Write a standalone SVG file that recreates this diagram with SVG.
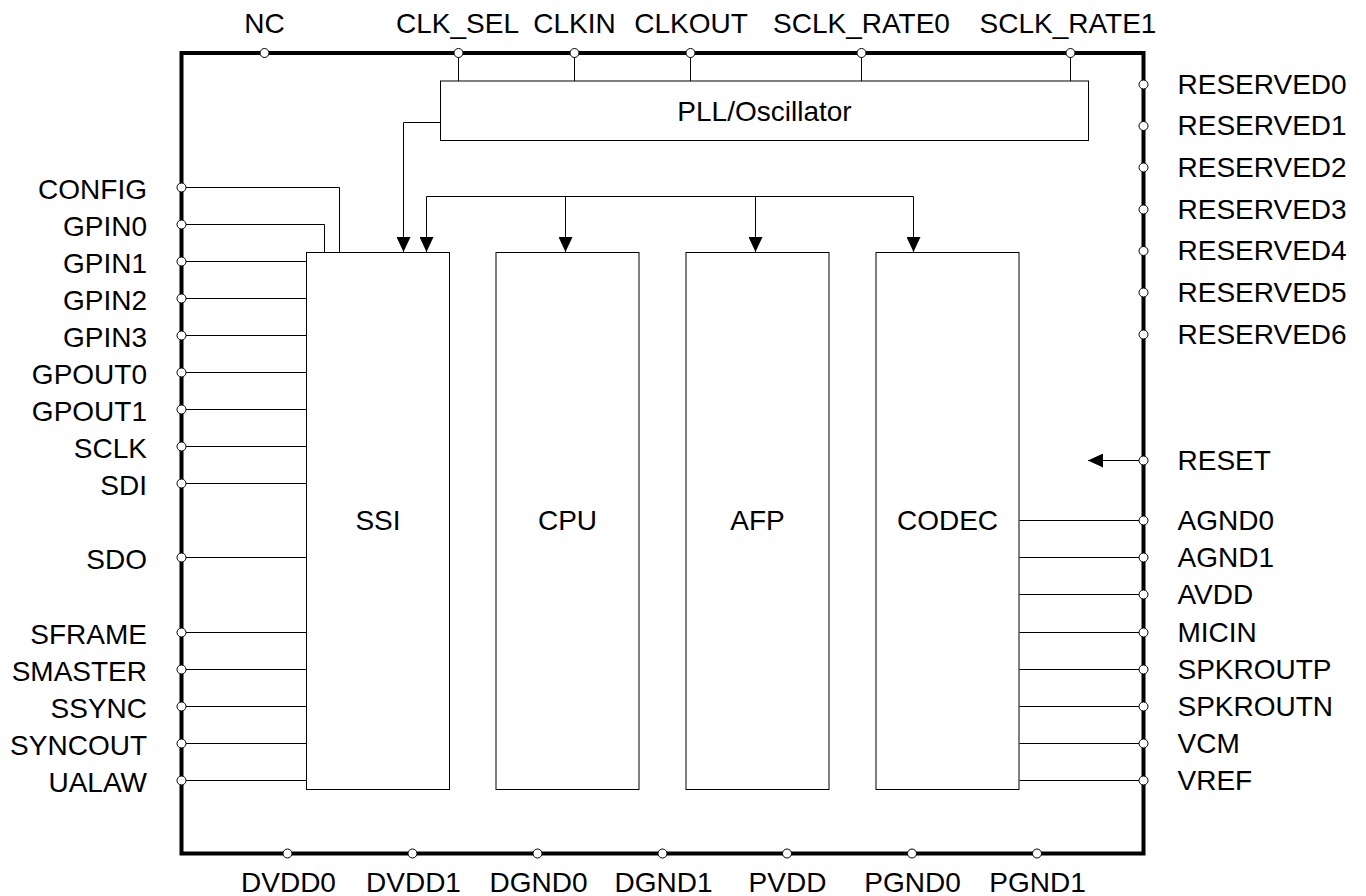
<svg xmlns="http://www.w3.org/2000/svg" width="1366" height="896" viewBox="0 0 1366 896">
<style>
  .lbl{font-family:"Liberation Sans",Arial,sans-serif;font-size:28px;fill:#000}
  .l{text-anchor:end}
  .r{text-anchor:start}
  .c{text-anchor:middle}
  .blk{fill:#fff;stroke:#000;stroke-width:1}
  .w{fill:none;stroke:#000;stroke-width:1}
  .pin{fill:#fff;stroke:#000;stroke-width:1}
  .chip{fill:none;stroke:#000;stroke-width:4}
</style>
<defs>
  <marker id="arr" markerUnits="userSpaceOnUse" markerWidth="15" markerHeight="14" refX="15" refY="7" orient="auto">
    <path d="M0,0 L15,7 L0,14 z" fill="#000"/>
  </marker>
</defs>
<rect width="1366" height="896" fill="#fff"/>

<g id="chip">
  <rect class="chip" x="181.5" y="53" width="962" height="800.5"/>
</g>

<g id="connectors">
  <path class="w" d="M458.5,53 V81 M574.5,53 V81 M690.5,53 V81 M861.5,53 V81 M1070.5,53 V81"/>
  <path class="w" d="M440.5,122.5 H403.5 V252" marker-end="url(#arr)"/>
  <path class="w" d="M426.5,196.5 H913.5"/>
  <path class="w" d="M426.5,196.5 V252" marker-end="url(#arr)"/>
  <path class="w" d="M565.5,196.5 V252" marker-end="url(#arr)"/>
  <path class="w" d="M755.5,196.5 V252" marker-end="url(#arr)"/>
  <path class="w" d="M913.5,196.5 V252" marker-end="url(#arr)"/>
  <path class="w" d="M181.5,187.5 H339.5 V252.5 M181.5,224.5 H324.5 V252.5"/>
  <path class="w" d="M181.5,261.5 H306.5 M181.5,298.5 H306.5 M181.5,335.5 H306.5 M181.5,372.5 H306.5 M181.5,409.5 H306.5 M181.5,446.5 H306.5 M181.5,483.5 H306.5 M181.5,557.5 H306.5 M181.5,632.5 H306.5 M181.5,669.5 H306.5 M181.5,706.5 H306.5 M181.5,743.5 H306.5 M181.5,780.5 H306.5"/>
  <path class="w" d="M1019.5,520.5 H1143.5 M1019.5,557.5 H1143.5 M1019.5,594.5 H1143.5 M1019.5,632.5 H1143.5 M1019.5,669.5 H1143.5 M1019.5,706.5 H1143.5 M1019.5,743.5 H1143.5 M1019.5,780.5 H1143.5"/>
  <path class="w" d="M1143.5,460.5 H1088" marker-end="url(#arr)"/>
</g>

<g id="pll">
  <rect class="blk" x="440.5" y="81" width="648" height="59.5"/>
  <text class="lbl c" x="764.5" y="121">PLL/Oscillator</text>
</g>
<g id="ssi">
  <rect class="blk" x="306.5" y="252.5" width="143" height="537"/>
  <text class="lbl c" x="378" y="530">SSI</text>
</g>
<g id="cpu">
  <rect class="blk" x="496" y="252.5" width="143" height="537"/>
  <text class="lbl c" x="567.5" y="530">CPU</text>
</g>
<g id="afp">
  <rect class="blk" x="686" y="252.5" width="143" height="537"/>
  <text class="lbl c" x="757.5" y="530">AFP</text>
</g>
<g id="codec">
  <rect class="blk" x="876" y="252.5" width="143" height="537"/>
  <text class="lbl c" x="947.5" y="530">CODEC</text>
</g>

<g id="pins-top">
  <circle class="pin" cx="264.5" cy="53" r="4.5"/><text class="lbl c" x="264.5" y="33">NC</text>
  <circle class="pin" cx="458.5" cy="53" r="4.5"/><text class="lbl c" x="457.5" y="33">CLK_SEL</text>
  <circle class="pin" cx="574.5" cy="53" r="4.5"/><text class="lbl c" x="574.5" y="33">CLKIN</text>
  <circle class="pin" cx="690.5" cy="53" r="4.5"/><text class="lbl c" x="691" y="33">CLKOUT</text>
  <circle class="pin" cx="861.5" cy="53" r="4.5"/><text class="lbl c" x="861.5" y="33">SCLK_RATE0</text>
  <circle class="pin" cx="1070.5" cy="53" r="4.5"/><text class="lbl c" x="1068" y="33">SCLK_RATE1</text>
</g>

<g id="pins-left">
  <circle class="pin" cx="181.5" cy="187.5" r="4.5"/><text class="lbl l" x="147" y="199">CONFIG</text>
  <circle class="pin" cx="181.5" cy="224.5" r="4.5"/><text class="lbl l" x="147" y="236">GPIN0</text>
  <circle class="pin" cx="181.5" cy="261.5" r="4.5"/><text class="lbl l" x="147" y="273">GPIN1</text>
  <circle class="pin" cx="181.5" cy="298.5" r="4.5"/><text class="lbl l" x="147" y="310">GPIN2</text>
  <circle class="pin" cx="181.5" cy="335.5" r="4.5"/><text class="lbl l" x="147" y="347">GPIN3</text>
  <circle class="pin" cx="181.5" cy="372.5" r="4.5"/><text class="lbl l" x="147" y="384">GPOUT0</text>
  <circle class="pin" cx="181.5" cy="409.5" r="4.5"/><text class="lbl l" x="147" y="421">GPOUT1</text>
  <circle class="pin" cx="181.5" cy="446.5" r="4.5"/><text class="lbl l" x="147" y="458">SCLK</text>
  <circle class="pin" cx="181.5" cy="483.5" r="4.5"/><text class="lbl l" x="147" y="495">SDI</text>
  <circle class="pin" cx="181.5" cy="557.5" r="4.5"/><text class="lbl l" x="147" y="569">SDO</text>
  <circle class="pin" cx="181.5" cy="632.5" r="4.5"/><text class="lbl l" x="147" y="644">SFRAME</text>
  <circle class="pin" cx="181.5" cy="669.5" r="4.5"/><text class="lbl l" x="147" y="681">SMASTER</text>
  <circle class="pin" cx="181.5" cy="706.5" r="4.5"/><text class="lbl l" x="147" y="718">SSYNC</text>
  <circle class="pin" cx="181.5" cy="743.5" r="4.5"/><text class="lbl l" x="147" y="755">SYNCOUT</text>
  <circle class="pin" cx="181.5" cy="780.5" r="4.5"/><text class="lbl l" x="147" y="792">UALAW</text>
</g>

<g id="pins-right">
  <circle class="pin" cx="1143.5" cy="84.5" r="4.5"/><text class="lbl r" x="1177.5" y="93.5">RESERVED0</text>
  <circle class="pin" cx="1143.5" cy="126" r="4.5"/><text class="lbl r" x="1177.5" y="135">RESERVED1</text>
  <circle class="pin" cx="1143.5" cy="167.5" r="4.5"/><text class="lbl r" x="1177.5" y="176.5">RESERVED2</text>
  <circle class="pin" cx="1143.5" cy="209.5" r="4.5"/><text class="lbl r" x="1177.5" y="218.5">RESERVED3</text>
  <circle class="pin" cx="1143.5" cy="251" r="4.5"/><text class="lbl r" x="1177.5" y="260">RESERVED4</text>
  <circle class="pin" cx="1143.5" cy="292.5" r="4.5"/><text class="lbl r" x="1177.5" y="301.5">RESERVED5</text>
  <circle class="pin" cx="1143.5" cy="334.5" r="4.5"/><text class="lbl r" x="1177.5" y="343.5">RESERVED6</text>
  <circle class="pin" cx="1143.5" cy="460.5" r="4.5"/><text class="lbl r" x="1177.5" y="470">RESET</text>
  <circle class="pin" cx="1143.5" cy="520.5" r="4.5"/><text class="lbl r" x="1177.5" y="530">AGND0</text>
  <circle class="pin" cx="1143.5" cy="557.5" r="4.5"/><text class="lbl r" x="1177.5" y="567">AGND1</text>
  <circle class="pin" cx="1143.5" cy="594.5" r="4.5"/><text class="lbl r" x="1177.5" y="604">AVDD</text>
  <circle class="pin" cx="1143.5" cy="632.5" r="4.5"/><text class="lbl r" x="1177.5" y="642">MICIN</text>
  <circle class="pin" cx="1143.5" cy="669.5" r="4.5"/><text class="lbl r" x="1177.5" y="679">SPKROUTP</text>
  <circle class="pin" cx="1143.5" cy="706.5" r="4.5"/><text class="lbl r" x="1177.5" y="716">SPKROUTN</text>
  <circle class="pin" cx="1143.5" cy="743.5" r="4.5"/><text class="lbl r" x="1177.5" y="753">VCM</text>
  <circle class="pin" cx="1143.5" cy="780.5" r="4.5"/><text class="lbl r" x="1177.5" y="790">VREF</text>
</g>

<g id="pins-bottom">
  <circle class="pin" cx="287.5" cy="853.5" r="4.5"/><text class="lbl c" x="288.5" y="892">DVDD0</text>
  <circle class="pin" cx="412.5" cy="853.5" r="4.5"/><text class="lbl c" x="413.5" y="892">DVDD1</text>
  <circle class="pin" cx="537.5" cy="853.5" r="4.5"/><text class="lbl c" x="538.5" y="892">DGND0</text>
  <circle class="pin" cx="662.5" cy="853.5" r="4.5"/><text class="lbl c" x="663.5" y="892">DGND1</text>
  <circle class="pin" cx="787" cy="853.5" r="4.5"/><text class="lbl c" x="787.5" y="892">PVDD</text>
  <circle class="pin" cx="912" cy="853.5" r="4.5"/><text class="lbl c" x="912.5" y="892">PGND0</text>
  <circle class="pin" cx="1037" cy="853.5" r="4.5"/><text class="lbl c" x="1037.5" y="892">PGND1</text>
</g>
</svg>
